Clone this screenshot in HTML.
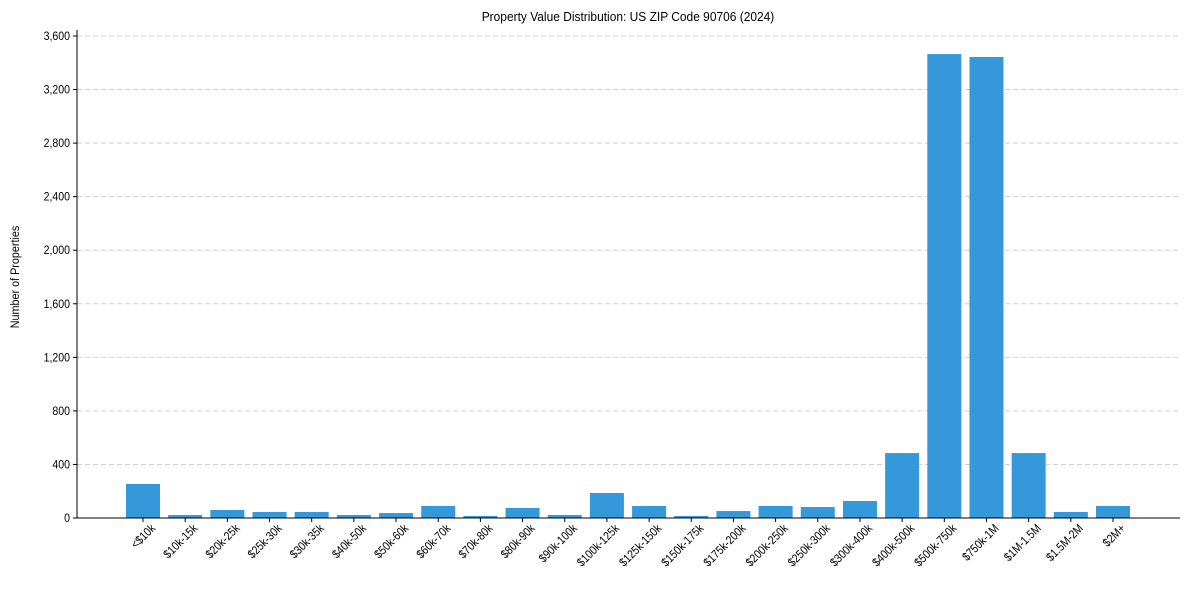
<!DOCTYPE html>
<html><head><meta charset="utf-8"><style>
body{margin:0;background:#fff;}
svg text{font-family:"Liberation Sans",sans-serif;fill:#000;}
</style></head><body>
<svg id="chart" width="1189" height="590" xmlns="http://www.w3.org/2000/svg">
<text x="628" y="21" font-size="13" text-anchor="middle" transform="translate(628,0) scale(0.92,1) translate(-628,0)">Property Value Distribution: US ZIP Code 90706 (2024)</text>
<text x="0" y="0" font-size="12" text-anchor="middle" transform="translate(19,277) rotate(-90) scale(0.9,1)">Number of Properties</text>
<g id="grid"></g><g id="bars"></g><g id="axes"></g>
</svg>
<script>
const categories=["<$10k","$10k-15k","$20k-25k","$25k-30k","$30k-35k","$40k-50k","$50k-60k","$60k-70k","$70k-80k","$80k-90k","$90k-100k","$100k-125k","$125k-150k","$150k-175k","$175k-200k","$200k-250k","$250k-300k","$300k-400k","$400k-500k","$500k-750k","$750k-1M","$1M-1.5M","$1.5M-2M","$2M+"];
const values=[254,22,60,45,45,22,37,90,15,75,22,187,90,15,52,90,82,127,485,3465,3443,485,45,90];
const yTicks=[0,400,800,1200,1600,2000,2400,2800,3200,3600];
const yTickLabels=["0","400","800","1,200","1,600","2,000","2,400","2,800","3,200","3,600"];
const NS="http://www.w3.org/2000/svg";
const x0=77,x1=1180,y0=518,yTop=30;
const yScale=v=>y0-v*(482/3600);
const c0=143,step=(1113-143)/23;
const xScale=i=>c0+i*step;
const bw=34;
function mk(t,a,p){const e=document.createElementNS(NS,t);for(const k in a)e.setAttribute(k,a[k]);p.appendChild(e);return e;}
const grid=document.getElementById('grid'),bars=document.getElementById('bars'),axes=document.getElementById('axes');
yTicks.forEach((v,i)=>{
 const y=yScale(v);
 if(v>0){const g=mk('line',{x1:x0,x2:x1,y1:y,y2:y,stroke:'#d0d0d0','stroke-dasharray':'5,3','stroke-width':1},grid);
 
 }
 const tk=mk('line',{x1:x0-4,x2:x0,y1:y,y2:y,stroke:'#000'},axes);
 
 
 const t=mk('text',{x:0,y:0,'font-size':12,'text-anchor':'end',transform:`translate(${x0-7},${y+4}) scale(0.88,1)`},axes);
 t.textContent=yTickLabels[i];
 
 
});
categories.forEach((c,i)=>{
 const cx=xScale(i),y=yScale(values[i]);
 const r=mk('rect',{x:cx-bw/2,y:y,width:bw,height:y0-y,fill:'#3498db'},bars);
 
 
 const tk=mk('line',{x1:cx,x2:cx,y1:y0,y2:y0+4,stroke:'#000'},axes);
 
 
 const t=mk('text',{x:0,y:0,'font-size':12,'text-anchor':'end',transform:`translate(${cx+13},${y0+11}) rotate(-45) scale(0.86,1)`},axes);
 t.textContent=c;
 
 
});
const ya=mk('line',{x1:x0,x2:x0,y1:yTop,y2:y0,stroke:'#000','stroke-width':1},axes);


const xa=mk('line',{x1:x0,x2:x1,y1:y0,y2:y0,stroke:'#000','stroke-width':1},axes);


</script>
</body></html>
